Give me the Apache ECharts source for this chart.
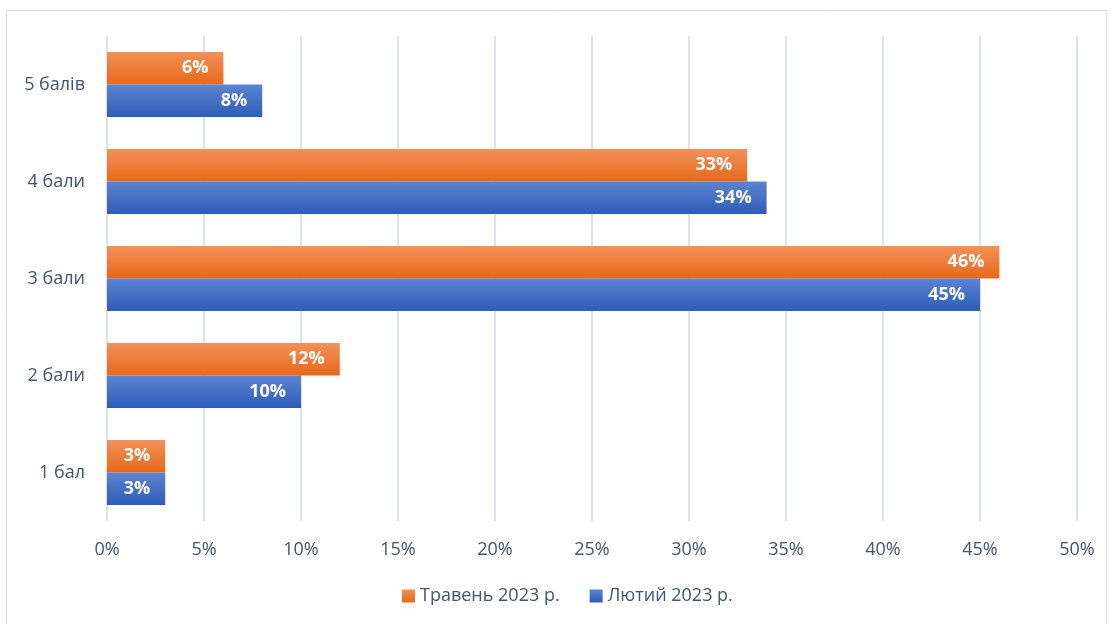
<!DOCTYPE html>
<html>
<head>
<meta charset="utf-8">
<script src="https://cdn.jsdelivr.net/npm/echarts@6/dist/echarts.min.js"></script>
<style>html,body{margin:0;padding:0;background:#fff}#c{width:1113px;height:624px}</style>
</head>
<body>
<div id="c"></div>
<script>
const categories = ['1 бал', '2 бали', '3 бали', '4 бали', '5 балів'];
const seriesNames = ['Травень 2023 р.', 'Лютий 2023 р.'];
const mayValues = [3, 12, 46, 33, 6];
const febValues = [3, 10, 45, 34, 8];
const xTicks = [0, 5, 10, 15, 20, 25, 30, 35, 40, 45, 50];

const txt = '#44546A';
const font = '"Open Sans", "Liberation Sans", sans-serif';
function grad(top, bottom) {
  return { type: 'linear', x: 0, y: 0, x2: 0, y2: 1, colorStops: [{ offset: 0, color: top }, { offset: 1, color: bottom }] };
}
const orange = grad('#F39159', '#E8681A');
const blue = grad('#5B84D1', '#2E5CB8');
const label = { show: true, position: 'insideRight', distance: 15, color: '#fff', fontWeight: 'bold', fontSize: 18, fontFamily: font, formatter: p => p.value + '%' };

const chart = echarts.init(document.getElementById('c'));
chart.setOption({
  animation: false,
  textStyle: { fontFamily: font },
  graphic: [{ type: 'rect', shape: { x: 6.5, y: 10.5, width: 1100, height: 640 }, style: { fill: 'none', stroke: '#D9DEE6', lineWidth: 1 }, silent: true }],
  grid: { left: 107, right: 36, top: 36, bottom: 103 },
  legend: {
    data: seriesNames, bottom: 14, left: 397, itemWidth: 13, itemHeight: 13, itemGap: 30,
    icon: 'rect', textStyle: { color: txt, fontSize: 18, fontFamily: font }
  },
  xAxis: {
    type: 'value', min: 0, max: 50, interval: 5,
    axisLine: { show: false }, axisTick: { show: false },
    axisLabel: { color: txt, fontSize: 18, margin: 20, formatter: v => xTicks.includes(v) ? v + '%' : '' },
    splitLine: { lineStyle: { color: '#DEE3EA', width: 2 } }
  },
  yAxis: {
    type: 'category', data: categories,
    axisLine: { show: false }, axisTick: { show: false },
    axisLabel: { color: txt, fontSize: 18, margin: 22 }
  },
  series: [
    { name: seriesNames[0], type: 'bar', data: mayValues, itemStyle: { color: orange }, label: label, barCategoryGap: '33%', barGap: '0%' },
    { name: seriesNames[1], type: 'bar', data: febValues, itemStyle: { color: blue }, label: label, barCategoryGap: '33%', barGap: '0%' }
  ]
});
</script>
</body>
</html>
